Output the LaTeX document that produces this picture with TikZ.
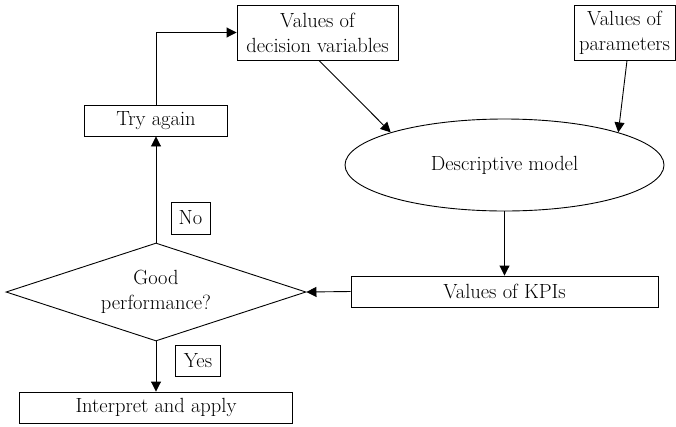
\documentclass[tikz,border=0pt]{standalone}
\usetikzlibrary{shapes.geometric,arrows.meta}
\begin{document}
\begin{tikzpicture}[x=1pt,y=-1pt,
  every node/.style={font=\fontsize{20.5}{25}\selectfont, align=center, inner sep=0pt},
  box/.style={draw, line width=0.9pt, rectangle},
  oval/.style={draw, line width=0.9pt, ellipse},
  decision/.style={draw, line width=0.9pt, diamond, aspect=3.06},
  link/.style={line width=0.9pt, -{Triangle[length=10pt,width=10pt]}}]
\useasboundingbox (0,0) rectangle (676,426);

\node[box, minimum width=161pt, minimum height=55pt] (dec) at (317.5,32.5) {Values of\\decision variables};
\node[box, minimum width=101pt, minimum height=55pt] (par) at (624.5,32.5) {Values of\\parameters};
\node[box, minimum width=143pt, minimum height=31pt] (try) at (156,120.5) {Try again};
\node[oval, minimum width=319pt, minimum height=92pt] (ell) at (504.5,165) {Descriptive model};
\node[box, minimum width=307pt, minimum height=31pt] (kpi) at (504.5,291.5) {Values of KPIs};
\node[decision, minimum width=300pt, minimum height=98pt] (dia) at (156,292) {Good\\performance?};
\node[box, minimum width=39pt, minimum height=32pt] (no) at (190.5,218) {No};
\node[box, minimum width=45.5pt, minimum height=31pt] (yes) at (198,360.5) {Yes};
\node[box, minimum width=273.5pt, minimum height=31pt] (app) at (156,407.5) {Interpret and apply};

\draw[link] ([xshift=1.5pt]dec.south) -- (ell.164);
\draw[link] ([xshift=2.5pt]par.south) -- (ell.16);
\draw[link] (ell.south) -- (kpi.north);
\draw[link] (kpi.west) -- (dia.east);
\draw[link] (dia.north) -- (try.south);
\draw[link] (try.north) |- (dec.west);
\draw[link] (dia.south) -- (app.north);
\end{tikzpicture}
\end{document}
